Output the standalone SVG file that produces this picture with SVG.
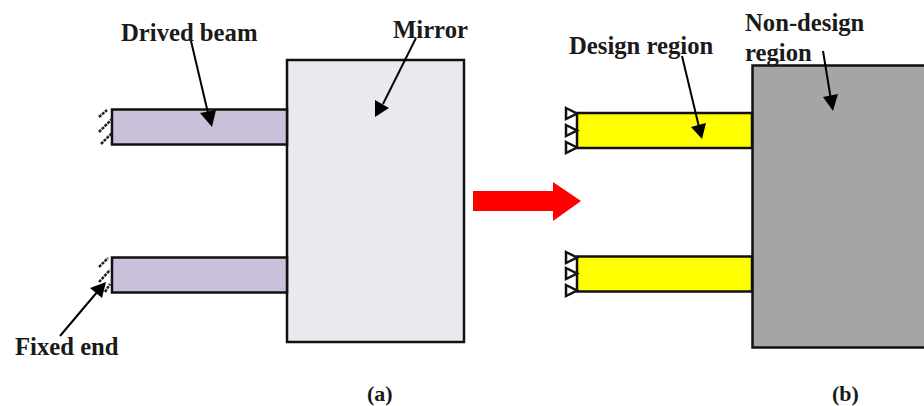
<svg xmlns="http://www.w3.org/2000/svg" width="924" height="406" viewBox="0 0 924 406">
<style>
.t{font-family:"Liberation Serif","Times New Roman",serif;font-weight:700;font-size:24.700px;fill:#1a1a1a}
.s{font-size:22px}
.b{stroke:#111;stroke-width:2.5}
.beam{fill:#cbc0da}
.y{fill:#ffff00}
.c{stroke:#000;stroke-width:2;fill:none}
.h{fill:#000;stroke:none}
.hatch{stroke:#222;stroke-width:2.5;stroke-dasharray:3 1;fill:none}
.sup{fill:#fff;stroke:#111;stroke-width:2.5}
</style>
<rect width="924" height="406" fill="#fff"/>
<g id="mirror"><rect class="b" x="287" y="60" width="177" height="282" fill="#ebe8f0"/></g>
<g id="beam-top"><rect class="b beam" x="112" y="109.500" width="175" height="35"/>
<path class="hatch" d="M99 117L107 110M99 132L112 119M101 144L112 133"/></g>
<g id="beam-bottom"><rect class="b beam" x="112" y="257.500" width="175" height="35"/>
<path class="hatch" d="M99 267L108 258M99 282L110 270M105 292L110 284"/></g>
<g id="non-design"><rect class="b" x="752.500" y="65.500" width="175" height="282" fill="#a5a5a5"/></g>
<g id="design-top"><rect class="b y" x="577" y="113" width="175" height="35"/>
<path class="sup" d="M566 108L577 113.500L566 119ZM566 125L577 130.500L566 136ZM566 142L577 147.500L566 153Z"/></g>
<g id="design-bottom"><rect class="b y" x="577" y="256.500" width="175" height="35"/>
<path class="sup" d="M566 252L577 257.500L566 263ZM566 268L577 273.500L566 279ZM566 285L577 290.500L566 296Z"/></g>
<g id="connectors">
<path class="c" d="M191 41L208 113"/><path class="h" d="M200 113L216 110L212 127Z"/>
<path class="c" d="M416 38L383 104"/><path class="h" d="M375 117L375 100L389 108Z"/>
<path class="c" d="M682 56L699 127"/><path class="h" d="M691 127L706 123L702 139Z"/>
<path class="c" d="M823 51L831 100"/><path class="h" d="M823 97L838 94L833 111Z"/>
<path class="c" d="M60 336L98 291"/><path class="h" d="M106 282L90 288L102 298Z"/>
<path d="M473 191H553V182L581 201L553 221V211H473Z" fill="#f00"/>
</g>
<g id="labels">
<text class="t" x="121" y="41">Drived beam</text>
<text class="t" x="393" y="38">Mirror</text>
<text class="t" x="569" y="54">Design region</text>
<text class="t" x="745" y="31">Non-design</text>
<text class="t" x="745" y="61">region</text>
<text class="t" x="15" y="355">Fixed end</text>
<text class="t s" x="367" y="401">(a)</text>
<text class="t s" x="832" y="401">(b)</text>
</g>
</svg>
